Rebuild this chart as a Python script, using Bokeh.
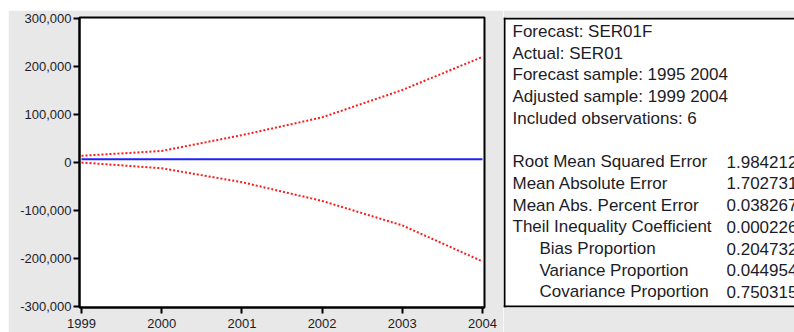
from bokeh.plotting import figure
from bokeh.layouts import row, column
from bokeh.models import Range1d, FixedTicker, NumeralTickFormatter, Spacer
from bokeh.core.properties import value
from bokeh.embed import file_html
from bokeh.resources import INLINE

# ---- data ----
years = [1999, 2000, 2001, 2002, 2003, 2004]
forecast = [7000, 7000, 7000, 7000, 7000, 7000]
upper_band = [14000, 24000, 57000, 94000, 151000, 220000]
lower_band = [0, -12000, -41000, -80000, -131000, -206000]
y_ticks = [-300000, -200000, -100000, 0, 100000, 200000, 300000]

stat_labels = [
    "Forecast: SER01F",
    "Actual: SER01",
    "Forecast sample: 1995 2004",
    "Adjusted sample: 1999 2004",
    "Included observations: 6",
    "",
    "Root Mean Squared Error",
    "Mean Absolute Error",
    "Mean Abs. Percent Error",
    "Theil Inequality Coefficient",
    "Bias Proportion",
    "Variance Proportion",
    "Covariance Proportion",
]
stat_values = ["", "", "", "", "", "",
               "1.984212", "1.702731", "0.038267", "0.000226",
               "0.204732", "0.044954", "0.750315"]
indented = [False] * 10 + [True] * 3

GRAY = "#e8e8e8"
FONT = "Liberation Sans"
TXT = "#1c1c28"
H = 322

# ---- left chart ----
p = figure(width=495, height=H, output_backend="svg", toolbar_location=None,
           x_range=Range1d(1998.975, 2004.025), y_range=Range1d(-302000, 302000),
           min_border_left=71, min_border_right=19, min_border_top=7, min_border_bottom=12)
p.background_fill_color = "white"
p.border_fill_color = GRAY
p.outline_line_color = "black"
p.outline_line_width = 2
p.xgrid.visible = False
p.ygrid.visible = False

p.yaxis.ticker = FixedTicker(ticks=y_ticks)
p.yaxis.formatter = NumeralTickFormatter(format="0,0")
p.xaxis.ticker = FixedTicker(ticks=years)
for ax in (p.xaxis[0], p.yaxis[0]):
    ax.axis_line_color = "black"
    ax.axis_line_width = 2
    ax.major_tick_line_color = "black"
    ax.major_tick_line_width = 2
    ax.major_tick_in = 0
    ax.major_tick_out = 6
    ax.minor_tick_line_color = None
    ax.major_label_text_font = FONT
    ax.major_label_text_font_size = "13px"
    ax.major_label_text_color = TXT
p.yaxis.major_label_standoff = 2
p.xaxis.major_label_standoff = 5

p.line(years, forecast, line_color="#2020ff", line_width=2)
p.line(years, upper_band, line_color="#ff1a1a", line_width=2, line_dash="2 2")
p.line(years, lower_band, line_color="#ff1a1a", line_width=2, line_dash="2 2")

# ---- right statistics panel ----
q = figure(width=291, height=H, output_backend="svg", toolbar_location=None,
           x_range=Range1d(0, 291), y_range=Range1d(290, 0),
           min_border_left=0, min_border_right=0, min_border_top=7, min_border_bottom=25)
q.background_fill_color = "white"
q.border_fill_color = GRAY
q.outline_line_color = None
q.axis.visible = False
q.grid.visible = False

n = len(stat_labels)
ys = [14 + 21.7 * i for i in range(n)]
xs = [36 if ind else 9 for ind in indented]
q.text(x=xs, y=ys, text=stat_labels, text_font=value(FONT), text_font_size="17px",
       text_color=TXT, text_baseline="middle", text_align="left")
q.text(x=[223] * n, y=ys, text=stat_values, text_font=value(FONT), text_font_size="17px",
       text_color=TXT, text_baseline="middle", text_align="left")

q.multi_line(xs=[[1, 1], [0, 400], [0, 400]], ys=[[0, 290], [1, 1], [289, 289]],
             line_color="black", line_width=2)

layout = column(Spacer(height=10), row(Spacer(width=8), p, q))
open("out.html", "w").write(file_html(layout, INLINE))
